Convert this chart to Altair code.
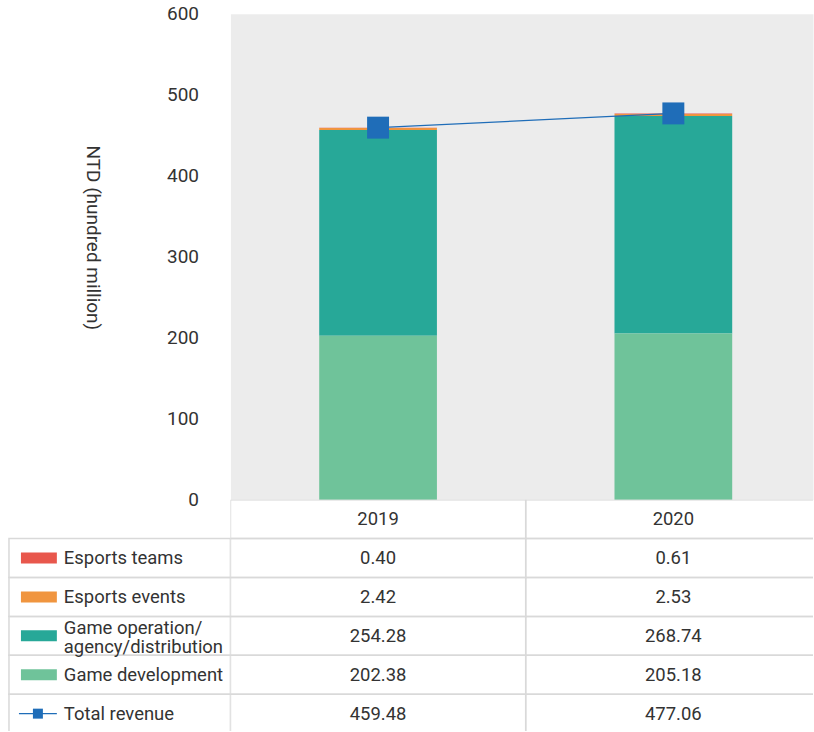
import altair as alt
import pandas as pd

# ---- data ----
years = ["2019", "2020"]
esports_teams = [0.40, 0.61]
esports_events = [2.42, 2.53]
game_operation = [254.28, 268.74]
game_development = [202.38, 205.18]
total_revenue = [459.48, 477.06]

series_names = ["Esports teams", "Esports events",
                "Game operation/agency/distribution", "Game development"]
series_labels = ["Esports teams", "Esports events",
                 "Game operation/\nagency/distribution", "Game development"]
series_colors = ["#e8574c", "#f0953f", "#27a898", "#6fc39a"]
stack_order = [3, 2, 1, 0]
total_name = "Total revenue"
y_ticks = [0, 100, 200, 300, 400, 500, 600]

BLUE = "#1f6db8"
TXT = "#333333"
GRID = "#d9d9d9"
FONT = "Roboto"
FS = 18.5
AFS = 19

series_values = [esports_teams, esports_events, game_operation, game_development]

# ---- tables ----
bar_rows = []
for name, vals, o in zip(series_names, series_values, stack_order):
    for yr, v in zip(years, vals):
        bar_rows.append({"year": yr, "series": name, "value": v, "order": o})
bar_df = pd.DataFrame(bar_rows)

total_df = pd.DataFrame({"year": years, "total": total_revenue})

row_names = ["header"] + series_names + [total_name]

tab_rows = []
for yr in years:
    tab_rows.append({"year": yr, "row": "header", "label": yr})
for name, vals in zip(series_names + [total_name], series_values + [total_revenue]):
    for yr, v in zip(years, vals):
        tab_rows.append({"year": yr, "row": name, "label": f"{v:.2f}"})
tab_df = pd.DataFrame(tab_rows)

lab_df = pd.DataFrame({
    "row": series_names + [total_name],
    "label": series_labels + [total_name],
})
single_lab_df = lab_df[~lab_df["label"].str.contains("\n")]
multi_lab_df = lab_df[lab_df["label"].str.contains("\n")]
swatch_df = pd.DataFrame({"row": series_names, "series": series_names})
total_sw_df = pd.DataFrame({"row": [total_name]})

COLW = 584      # visible width of the plot / value columns
XRANGE = 592    # column bands continue past the right edge (cropped as in the reference)
LEFTW = 223
PLOTH = 487
TABH = 232
YRANGE = 234    # last table row continues past the bottom edge

# ---- scales ----
xsc = alt.Scale(domain=years, paddingInner=0, paddingOuter=0, range=[0, XRANGE])
ysc = alt.Scale(domain=row_names, paddingInner=0, paddingOuter=0, range=[0, YRANGE])
csc = alt.Scale(domain=series_names, range=series_colors)

# ---- top chart ----
xenc = alt.X("year:N", scale=xsc, axis=None)
bars = alt.Chart(bar_df).mark_bar(size=118).encode(
    x=xenc,
    y=alt.Y("value:Q", stack="zero",
            scale=alt.Scale(domain=[0, 600], nice=False),
            axis=alt.Axis(values=y_ticks, ticks=False, domain=False, grid=False,
                          labelFontSize=AFS, labelFont=FONT, labelColor=TXT,
                          labelPadding=32,
                          title="NTD (hundred million)", titleAngle=90,
                          titleX=-138, titleY=224, titleFontSize=AFS,
                          titleFont=FONT, titleFontWeight="normal",
                          titleColor=TXT, titleAlign="center",
                          titleBaseline="middle")),
    color=alt.Color("series:N", scale=csc, legend=None),
    order=alt.Order("order:Q", sort="ascending"),
)
line = alt.Chart(total_df).mark_line(color=BLUE, strokeWidth=1.3).encode(
    x=xenc, y=alt.Y("total:Q"))
pts = alt.Chart(total_df).mark_point(shape="square", filled=True, size=484,
                                     color=BLUE, opacity=1).encode(
    x=xenc, y=alt.Y("total:Q"))
top = alt.layer(bars, line, pts).properties(
    width=COLW, height=PLOTH,
    view=alt.ViewBackground(fill="#ececec", stroke="transparent"))

# ---- blank top-left cell ----
blank = alt.Chart(pd.DataFrame({"a": [0]})).mark_rule(opacity=0).encode(
    x=alt.value(0), x2=alt.value(LEFTW), y=alt.value(100)
).properties(width=LEFTW, height=PLOTH)

# ---- left label column ----
yenc = alt.Y("row:N", scale=ysc, axis=None)
lab_cells = alt.Chart(lab_df).mark_rect(fillOpacity=0, stroke=GRID, strokeWidth=1.5,
                                        clip=True).encode(
    x=alt.value(1), x2=alt.value(LEFTW), y=yenc)
lab_text = alt.Chart(single_lab_df).mark_text(
    align="left", baseline="middle", font=FONT, fontSize=FS, color=TXT).encode(
    x=alt.value(56), y=yenc, text="label:N")
lab_text2 = alt.Chart(multi_lab_df).mark_text(
    align="left", baseline="middle", font=FONT, fontSize=FS, color=TXT,
    lineBreak="\n", lineHeight=19, dy=-8).encode(
    x=alt.value(56), y=yenc, text="label:N")
swatches = alt.Chart(swatch_df).mark_rule(strokeWidth=11).encode(
    x=alt.value(13), x2=alt.value(49), y=yenc,
    color=alt.Color("series:N", scale=csc, legend=None))
tot_line = alt.Chart(total_sw_df).mark_rule(strokeWidth=1.3, color=BLUE).encode(
    x=alt.value(11), x2=alt.value(49), y=yenc)
tot_pt = alt.Chart(total_sw_df).mark_point(shape="square", filled=True, size=100,
                                           color=BLUE, opacity=1).encode(
    x=alt.value(30), y=yenc)
labels = alt.layer(lab_cells, swatches, tot_line, tot_pt, lab_text, lab_text2).properties(
    width=LEFTW, height=TABH)

# ---- value table ----
val_cells = alt.Chart(tab_df).mark_rect(fillOpacity=0, stroke=GRID, strokeWidth=1.5,
                                        clip=True).encode(
    x=xenc, y=yenc)
val_text = alt.Chart(tab_df).mark_text(align="center", baseline="middle", font=FONT,
                                        fontSize=FS, color=TXT, clip=True).encode(
    x=xenc, y=yenc, text="label:N")
values = alt.layer(val_cells, val_text).properties(width=COLW, height=TABH)

chart = alt.concat(blank, top, labels, values, columns=2, spacing=0,
                   bounds="flush").configure(
    padding={"left": 7, "top": 3, "right": 0, "bottom": 0},
    font=FONT,
).configure_view(stroke="transparent")

chart.save("out.html", embed_options={"renderer": "svg", "actions": False})
